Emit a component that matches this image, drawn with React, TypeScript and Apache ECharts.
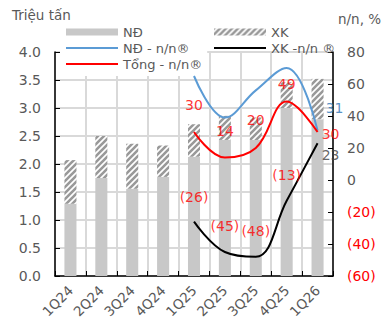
import React, { useEffect, useRef } from "react";
import * as echarts from "echarts";

const categories = ["1Q24", "2Q24", "3Q24", "4Q24", "1Q25", "2Q25", "3Q25", "4Q25", "1Q26"];
const ndVolume = [1.29, 1.75, 1.56, 1.77, 2.13, 2.43, 2.43, 3.0, 2.8];
const xkVolume = [0.78, 0.75, 0.8, 0.56, 0.58, 0.43, 0.4, 0.46, 0.72];
const ndYoY = [null, null, null, null, 65, 39, 56, 70, 31];
const xkYoY = [null, null, null, null, -26, -45, -48, -13, 23];
const totalYoY = [null, null, null, null, 30, 14, 20, 49, 30];

const leftMin = 0;
const leftMax = 4;
const leftStep = 0.5;
const rightMin = -60;
const rightMax = 80;
const rightStep = 20;

const FONT = "DejaVu Sans";
const GRAY_TEXT = "#595959";

// hatch pattern "////" for XK bars (style only)
const HATCH = 6;
const hatchSvg =
  `<svg xmlns='http://www.w3.org/2000/svg' width='${HATCH}' height='${HATCH}'>` +
  `<rect width='${HATCH}' height='${HATCH}' fill='#ffffff'/>` +
  `<path d='M-1,${HATCH + 1} L${HATCH + 1},-1 M-1,1 L1,-1 M${HATCH - 1},${HATCH + 1} L${HATCH + 1},${HATCH - 1}' stroke='#999999' stroke-width='2.6'/>` +
  `</svg>`;
const hatchUrl = "data:image/svg+xml;charset=utf-8," + encodeURIComponent(hatchSvg);

// label placement (style only)
const totalLabelOffsets: Record<number, number[]> = {
  4: [0, -27], 5: [0, -27], 6: [0, -28], 7: [0, -18], 8: [13, 2],
};
const xkLabelOffsets: Record<number, number[]> = {
  4: [0, -25], 5: [0, -26], 6: [0, -26], 7: [0, -26], 8: [13, 12],
};
const ndLabelOffsets: Record<number, number[]> = { 8: [17, -22] };

const fmtPct = (v: number) => (v < 0 ? `(${-v})` : `${v}`);

function labelData(values: (number | null)[], offsets: Record<number, number[]>, colorFn: (v: number) => string) {
  return values
    .map((v, i) => {
      const off = offsets[i];
      if (v === null || !off) return null;
      return {
        value: [i, v],
        label: {
          show: true,
          position: "inside",
          offset: off,
          formatter: () => fmtPct(v),
          color: colorFn(v),
          fontSize: 14,
          fontFamily: FONT,
        },
      };
    })
    .filter((d) => d !== null);
}

function labelSeries(name: string, data: any[]) {
  return {
    name,
    type: "scatter",
    yAxisIndex: 1,
    symbol: "circle",
    symbolSize: 1,
    silent: true,
    itemStyle: { color: "rgba(0,0,0,0)" },
    data,
    z: 10,
  };
}

export default function App() {
  const ref = useRef<HTMLDivElement>(null);
  useEffect(() => {
    if (!ref.current) return;
    const chart = echarts.init(ref.current, null, { renderer: "svg" });
    const lineLegend = (name: string) => ({ name, itemStyle: { opacity: 0 } });
    const hatchFill = { image: hatchUrl, repeat: "repeat", imageWidth: HATCH, imageHeight: HATCH };
    const option: any = {
      animation: false,
      backgroundColor: "#fff",
      textStyle: { fontFamily: FONT },
      grid: { left: 55, right: 53, top: 52, bottom: 50 },
      graphic: [
        { type: "text", left: 12, top: 8, style: { text: "Triệu tấn", font: `13.5px ${FONT}`, fill: GRAY_TEXT } },
        { type: "text", left: 338, top: 12, style: { text: "n/n, %", font: `13.5px ${FONT}`, fill: GRAY_TEXT } },
      ],
      legend: [
        {
          orient: "vertical",
          left: 60,
          top: 20,
          padding: [4, 5, 4, 5],
          backgroundColor: "#fff",
          itemWidth: 52,
          itemHeight: 7,
          itemGap: 0,
          textStyle: { fontSize: 13, color: GRAY_TEXT, fontFamily: FONT, lineHeight: 16 },
          data: [{ name: "NĐ", icon: "rect" }, lineLegend("NĐ - n/n®"), lineLegend("Tổng - n/n®")],
        },
        {
          orient: "vertical",
          left: 213,
          top: 24,
          padding: 0,
          itemWidth: 52,
          itemHeight: 7,
          itemGap: 0,
          textStyle: { fontSize: 13, color: GRAY_TEXT, fontFamily: FONT, lineHeight: 16 },
          data: [{ name: "XK", icon: "rect" }, lineLegend("XK -n/n ®")],
        },
      ],
      xAxis: {
        type: "category",
        data: categories,
        boundaryGap: true,
        axisLine: { lineStyle: { color: "#000", width: 1.5 } },
        axisTick: { show: true, inside: true, length: 5, lineStyle: { color: "#000" } },
        axisLabel: { rotate: 45, interval: 0, color: GRAY_TEXT, fontSize: 13.5, fontFamily: FONT, margin: 12 },
        splitLine: { show: true, lineStyle: { color: "#D9D9D9", width: 2 } },
      },
      yAxis: [
        {
          type: "value",
          min: leftMin,
          max: leftMax,
          interval: leftStep,
          axisLine: { show: true, lineStyle: { color: "#000", width: 1.5 } },
          axisTick: { show: true, inside: true, length: 5, lineStyle: { color: "#000" } },
          axisLabel: {
            color: GRAY_TEXT,
            fontSize: 14,
            fontFamily: FONT,
            margin: 14,
            formatter: (v: number) => v.toFixed(1),
          },
          splitLine: { show: true, lineStyle: { color: "#D9D9D9", width: 2 } },
        },
        {
          type: "value",
          position: "right",
          min: rightMin,
          max: rightMax,
          interval: rightStep,
          axisLine: { show: true, lineStyle: { color: "#000", width: 1.5 } },
          axisTick: { show: true, inside: true, length: 5, lineStyle: { color: "#000" } },
          axisLabel: {
            fontSize: 14,
            fontFamily: FONT,
            margin: 14,
            formatter: (v: number) => fmtPct(v),
            color: (v: any) => (Number(v) < 0 ? "#FF0000" : GRAY_TEXT),
          },
          splitLine: { show: false },
        },
      ],
      series: [
        {
          name: "NĐ",
          type: "bar",
          stack: "vol",
          data: ndVolume,
          barWidth: "39%",
          itemStyle: { color: "#C8C8C8" },
        },
        {
          name: "XK",
          type: "bar",
          stack: "vol",
          data: xkVolume,
          barWidth: "39%",
          itemStyle: { color: hatchFill },
        },
        {
          name: "NĐ - n/n®",
          type: "line",
          yAxisIndex: 1,
          smooth: 0.4,
          symbol: "none",
          lineStyle: { color: "#5B9BD5", width: 2 },
          itemStyle: { color: "#5B9BD5" },
          data: ndYoY,
          z: 5,
        },
        {
          name: "XK -n/n ®",
          type: "line",
          yAxisIndex: 1,
          smooth: 0.4,
          symbol: "none",
          lineStyle: { color: "#000", width: 2 },
          itemStyle: { color: "#000" },
          data: xkYoY,
          z: 5,
        },
        {
          name: "Tổng - n/n®",
          type: "line",
          yAxisIndex: 1,
          smooth: 0.4,
          symbol: "none",
          lineStyle: { color: "#FF0000", width: 2 },
          itemStyle: { color: "#FF0000" },
          data: totalYoY,
          z: 6,
        },
        labelSeries("ndLabels", labelData(ndYoY, ndLabelOffsets, () => "#2E75B6")),
        labelSeries("xkLabels", labelData(xkYoY, xkLabelOffsets, (v) => (v < 0 ? "#FF0000" : "#404040"))),
        labelSeries("totalLabels", labelData(totalYoY, totalLabelOffsets, () => "#FF0000")),
      ],
    };
    chart.setOption(option);
    return () => chart.dispose();
  }, []);
  return <div ref={ref} style={{ position: "fixed", left: 0, top: 0, width: 386, height: 326 }} />;
}
